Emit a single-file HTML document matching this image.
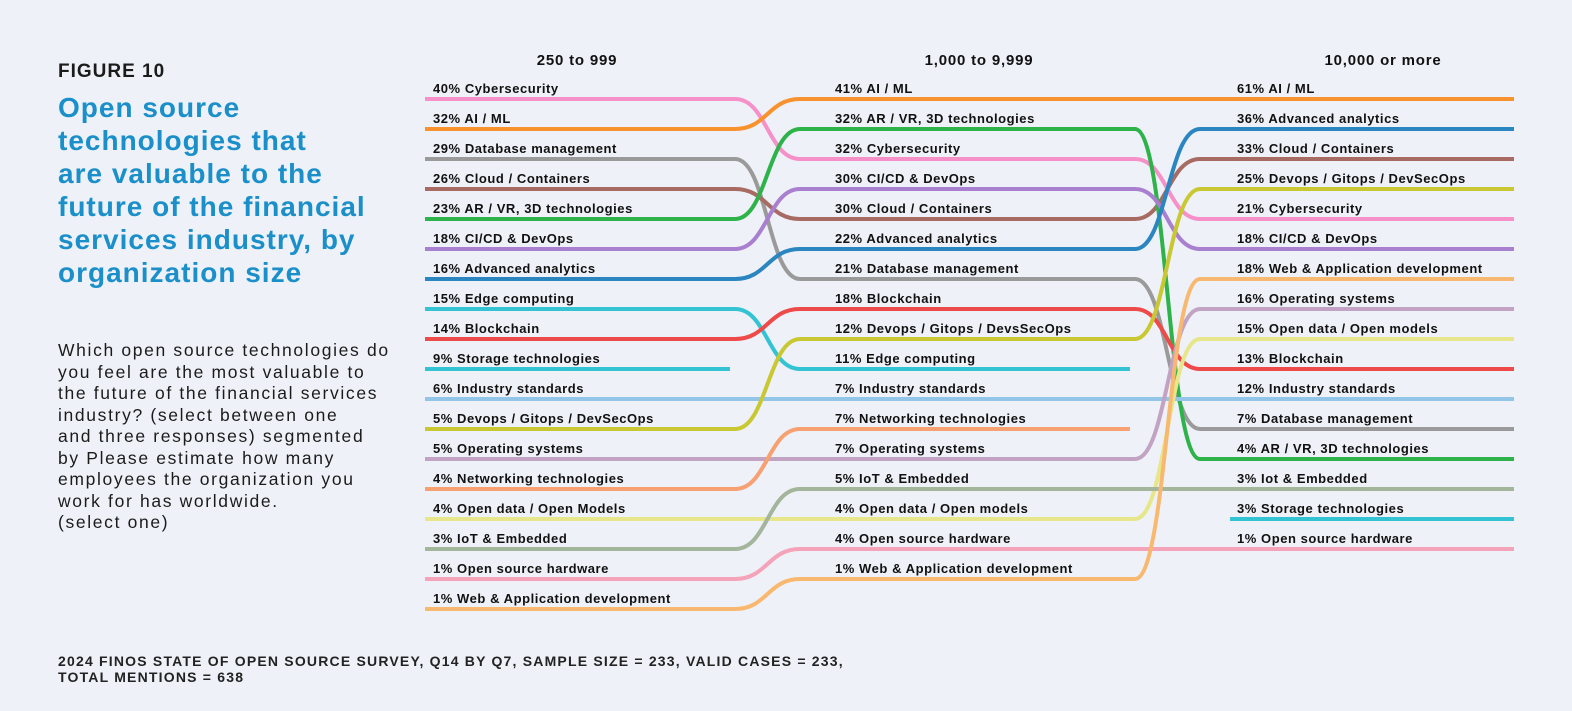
<!DOCTYPE html>
<html><head><meta charset="utf-8">
<style>
body{margin:0;background:#eef2f8;width:1572px;height:711px;overflow:hidden;font-family:"Liberation Sans",Arial,sans-serif;}
.fig{position:absolute;left:58px;top:61px;font-weight:bold;font-size:19px;color:#1b1b1b;letter-spacing:1px}
.title{position:absolute;left:58px;top:91px;font-weight:bold;font-size:28px;line-height:33px;color:#1a8fc9;letter-spacing:1px}
.body{position:absolute;left:58px;top:340px;font-size:17.5px;line-height:21.5px;color:#1b1b1b;letter-spacing:1.65px}
.foot{position:absolute;left:58px;top:653px;font-size:14px;line-height:16px;font-weight:bold;color:#222;letter-spacing:1.2px}
svg{position:absolute;left:0;top:0}
svg text{font-family:"Liberation Sans",Arial,sans-serif;font-weight:bold;font-size:13px;fill:#111;letter-spacing:0.55px}
svg path{fill:none;stroke-width:4}
</style></head><body>
<div class="fig">FIGURE 10</div>
<div class="title">Open source<br>technologies that<br>are valuable to the<br>future of the financial<br>services industry, by<br>organization size</div>
<div class="body">Which open source technologies do<br>you feel are the most valuable to<br>the future of the financial services<br>industry? (select between one<br>and three responses) segmented<br>by Please estimate how many<br>employees the organization you<br>work for has worldwide.<br>(select one)</div>
<div class="foot">2024 FINOS STATE OF OPEN SOURCE SURVEY, Q14 BY Q7, SAMPLE SIZE = 233, VALID CASES = 233,<br>TOTAL MENTIONS = 638</div>
<svg width="1572" height="711">
<g>
<path stroke="#f590c8" d="M425,99 H735 C767,99 768,159 800,159 H1135 C1167,159 1168,219 1200,219 H1514"/>
<path stroke="#f7922e" d="M425,129 H735 C767,129 768,99 800,99 H1135 C1167,99 1168,99 1200,99 H1514"/>
<path stroke="#9a9a9a" d="M425,159 H735 C767,159 768,279 800,279 H1135 C1167,279 1168,429 1200,429 H1514"/>
<path stroke="#a86b63" d="M425,189 H735 C767,189 768,219 800,219 H1135 C1167,219 1168,159 1200,159 H1514"/>
<path stroke="#2db34a" d="M425,219 H735 C767,219 768,129 800,129 H1135 C1167,129 1168,459 1200,459 H1514"/>
<path stroke="#a97fd0" d="M425,249 H735 C767,249 768,189 800,189 H1135 C1167,189 1168,249 1200,249 H1514"/>
<path stroke="#2a85c0" d="M425,279 H735 C767,279 768,249 800,249 H1135 C1167,249 1168,129 1200,129 H1514"/>
<path stroke="#33c3d3" d="M425,309 H735 C767,309 768,369 800,369 H1130"/>
<path stroke="#ef4a4a" d="M425,339 H735 C767,339 768,309 800,309 H1135 C1167,309 1168,369 1200,369 H1514"/>
<path stroke="#33c3d3" d="M425,369 H730"/>
<path stroke="#33c3d3" d="M1230,519 H1514"/>
<path stroke="#92c5e8" d="M425,399 H1514"/>
<path stroke="#c9c832" d="M425,429 H735 C767,429 768,339 800,339 H1135 C1167,339 1168,189 1200,189 H1514"/>
<path stroke="#c3a3c3" d="M425,459 H735 C767,459 768,459 800,459 H1135 C1167,459 1168,309 1200,309 H1514"/>
<path stroke="#f7a072" d="M425,489 H735 C767,489 768,429 800,429 H1130"/>
<path stroke="#e8e68a" d="M425,519 H735 C767,519 768,519 800,519 H1135 C1167,519 1168,339 1200,339 H1514"/>
<path stroke="#a3b59b" d="M425,549 H735 C767,549 768,489 800,489 H1135 C1167,489 1168,489 1200,489 H1514"/>
<path stroke="#f5a3b8" d="M425,579 H735 C767,579 768,549 800,549 H1135 C1167,549 1168,549 1200,549 H1514"/>
<path stroke="#f8b870" d="M425,609 H735 C767,609 768,579 800,579 H1135 C1167,579 1168,279 1200,279 H1514"/>
</g>
<g>
<text x="577" y="65" text-anchor="middle" style="font-size:15px;letter-spacing:0.8px">250 to 999</text>
<text x="979" y="65" text-anchor="middle" style="font-size:15px;letter-spacing:0.8px">1,000 to 9,999</text>
<text x="1383" y="65" text-anchor="middle" style="font-size:15px;letter-spacing:0.8px">10,000 or more</text>
</g>
<g>
<text x="433" y="93">40% Cybersecurity</text>
<text x="433" y="123">32% AI / ML</text>
<text x="433" y="153">29% Database management</text>
<text x="433" y="183">26% Cloud / Containers</text>
<text x="433" y="213">23% AR / VR, 3D technologies</text>
<text x="433" y="243">18% CI/CD &amp; DevOps</text>
<text x="433" y="273">16% Advanced analytics</text>
<text x="433" y="303">15% Edge computing</text>
<text x="433" y="333">14% Blockchain</text>
<text x="433" y="363">9% Storage technologies</text>
<text x="433" y="393">6% Industry standards</text>
<text x="433" y="423">5% Devops / Gitops / DevSecOps</text>
<text x="433" y="453">5% Operating systems</text>
<text x="433" y="483">4% Networking technologies</text>
<text x="433" y="513">4% Open data / Open Models</text>
<text x="433" y="543">3% IoT &amp; Embedded</text>
<text x="433" y="573">1% Open source hardware</text>
<text x="433" y="603">1% Web &amp; Application development</text>

<text x="835" y="93">41% AI / ML</text>
<text x="835" y="123">32% AR / VR, 3D technologies</text>
<text x="835" y="153">32% Cybersecurity</text>
<text x="835" y="183">30% CI/CD &amp; DevOps</text>
<text x="835" y="213">30% Cloud / Containers</text>
<text x="835" y="243">22% Advanced analytics</text>
<text x="835" y="273">21% Database management</text>
<text x="835" y="303">18% Blockchain</text>
<text x="835" y="333">12% Devops / Gitops / DevsSecOps</text>
<text x="835" y="363">11% Edge computing</text>
<text x="835" y="393">7% Industry standards</text>
<text x="835" y="423">7% Networking technologies</text>
<text x="835" y="453">7% Operating systems</text>
<text x="835" y="483">5% IoT &amp; Embedded</text>
<text x="835" y="513">4% Open data / Open models</text>
<text x="835" y="543">4% Open source hardware</text>
<text x="835" y="573">1% Web &amp; Application development</text>

<text x="1237" y="93">61% AI / ML</text>
<text x="1237" y="123">36% Advanced analytics</text>
<text x="1237" y="153">33% Cloud / Containers</text>
<text x="1237" y="183">25% Devops / Gitops / DevSecOps</text>
<text x="1237" y="213">21% Cybersecurity</text>
<text x="1237" y="243">18% CI/CD &amp; DevOps</text>
<text x="1237" y="273">18% Web &amp; Application development</text>
<text x="1237" y="303">16% Operating systems</text>
<text x="1237" y="333">15% Open data / Open models</text>
<text x="1237" y="363">13% Blockchain</text>
<text x="1237" y="393">12% Industry standards</text>
<text x="1237" y="423">7% Database management</text>
<text x="1237" y="453">4% AR / VR, 3D technologies</text>
<text x="1237" y="483">3% Iot &amp; Embedded</text>
<text x="1237" y="513">3% Storage technologies</text>
<text x="1237" y="543">1% Open source hardware</text>
</g>
</svg>
</body></html>
